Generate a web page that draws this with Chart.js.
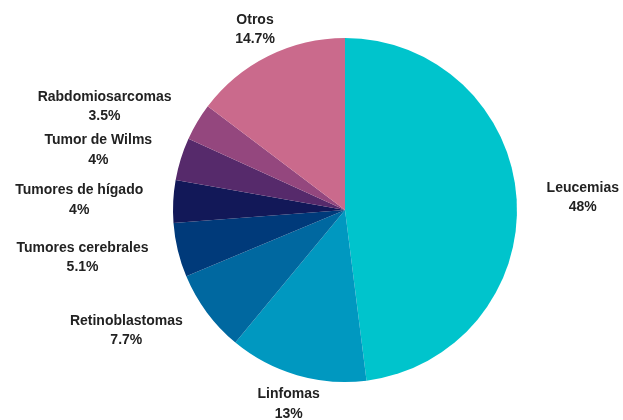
<!DOCTYPE html>
<html>
<head>
<meta charset="utf-8">
<script src="https://cdn.jsdelivr.net/npm/chart.js@4.4.1/dist/chart.umd.min.js"></script>
<style>
  html, body { margin: 0; padding: 0; background: #fff; }
  #wrap { width: 623px; height: 420px; position: relative; }
</style>
</head>
<body>
<div id="wrap"><canvas id="ctx_cancer"></canvas></div>
<script>
var categories = ['Leucemias', 'Linfomas', 'Retinoblastomas', 'Tumores cerebrales', 'Tumores de hígado', 'Tumor de Wilms', 'Rabdomiosarcomas', 'Otros'];
var percents   = [48, 13, 7.7, 5.1, 4, 4, 3.5, 14.7];
var colors     = ['#00c4cc', '#0098c0', '#0068a0', '#003a7a', '#121858', '#562a6b', '#94477e', '#ca6a8c'];

// labels outside the slices, two centred lines: name + percent
var outsideLabels = {
    id: 'outsideLabels',
    afterDatasetsDraw: function(chart) {
        var ctx = chart.ctx;
        var meta = chart.getDatasetMeta(0);
        ctx.save();
        ctx.font = 'bold 14px "Liberation Sans", Arial, sans-serif';
        ctx.fillStyle = '#222';
        ctx.textBaseline = 'middle';
        ctx.textAlign = 'center';
        meta.data.forEach(function(arc, i) {
            var p = arc.getProps(['x', 'y', 'startAngle', 'endAngle', 'outerRadius'], true);
            var mid = (p.startAngle + p.endAngle) / 2;
            var dx = Math.cos(mid), dy = Math.sin(mid);
            var r = p.outerRadius + 30;
            var x = p.x + dx * r, y = p.y + dy * r;
            var l1 = categories[i], l2 = percents[i] + '%';
            var w = Math.max(ctx.measureText(l1).width, ctx.measureText(l2).width);
            if (Math.abs(dx) >= 0.6) x += (dx > 0 ? 1 : -1) * w / 2;
            ctx.fillText(l1, x, y - 9.5);
            ctx.fillText(l2, x, y + 10);
        });
        ctx.restore();
    }
};

var chart = new Chart(document.getElementById('ctx_cancer'), {
    type: 'pie',
    data: {
        labels: categories,
        datasets: [{
            data: percents,
            backgroundColor: colors,
            borderWidth: 0
        }]
    },
    options: {
        responsive: true,
        maintainAspectRatio: false,
        animation: false,
        layout: { padding: { top: 38, bottom: 38, left: 173, right: 106 } },
        plugins: {
            legend: { display: false },
            tooltip: { enabled: false }
        }
    },
    plugins: [outsideLabels]
});
</script>
</body>
</html>
